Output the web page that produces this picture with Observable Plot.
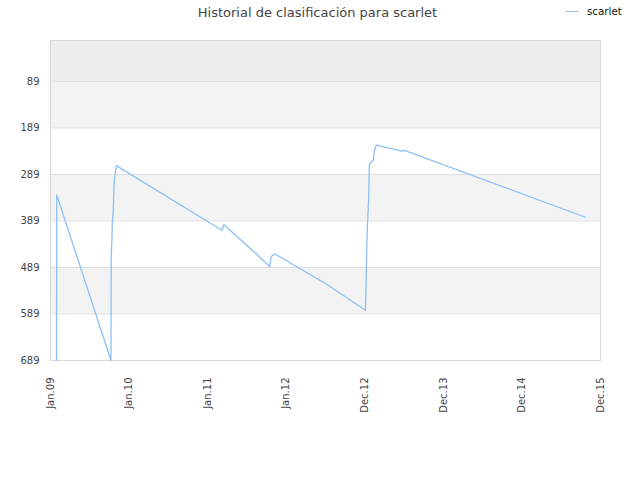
<!DOCTYPE html>
<html>
<head>
<meta charset="utf-8">
<script src="https://cdn.jsdelivr.net/npm/d3@7"></script>
<script src="https://cdn.jsdelivr.net/npm/@observablehq/plot@0.6"></script>
<style>
  html, body { margin: 0; padding: 0; background: #fff; }
  #wrap { position: relative; width: 640px; height: 480px; font-family: "DejaVu Sans", sans-serif; }
  #title { position: absolute; left: 0; top: 5px; width: 635px; text-align: center; font-size: 13px; color: #444; }
  #legend { position: absolute; left: 566px; top: 5px; font-size: 10.3px; color: #111; display: flex; align-items: center; }
  #legend .sw { display: inline-block; width: 12px; height: 0; border-top: 1.5px solid #8cc0f4; margin-right: 9px; }
  #chart { position: absolute; left: 0; top: 39px; }
</style>
</head>
<body>
<div id="wrap">
  <div id="title">Historial de clasificación para scarlet</div>
  <div id="legend"><span class="sw"></span><span>scarlet</span></div>
  <div id="chart"></div>
</div>
<script>
// ---- data ----
const seriesName = "scarlet";
const dates = [
  "2009-01-29", "2009-01-30", "2009-02-02",
  "2009-10-09", "2009-10-10", "2009-10-14", "2009-10-15", "2009-10-19",
  "2009-10-24", "2009-10-28", "2009-11-03",
  "2011-03-08", "2011-03-18", "2011-08-15", "2011-10-16", "2011-10-24",
  "2011-11-10", "2012-07-07",
  "2013-01-03", "2013-01-06", "2013-01-08", "2013-01-12", "2013-01-18",
  "2013-01-21", "2013-01-29", "2013-02-09", "2013-02-14", "2013-02-22",
  "2013-06-21", "2013-07-03", "2015-10-22"
];
const ranks = [
  689, 333, 337,
  689, 467, 420, 395, 370,
  306, 288, 270,
  409, 397, 460, 487, 465,
  460, 525,
  581, 529, 474, 401, 341,
  266, 264, 257, 237, 226,
  239, 237, 381
];
const xTickDates = ["2009-01-01", "2010-01-01", "2011-01-01", "2012-01-01",
                    "2012-12-31", "2013-12-31", "2014-12-31", "2015-12-31"];
const xTickLabels = ["Jan.09", "Jan.10", "Jan.11", "Jan.12",
                     "Dec.12", "Dec.13", "Dec.14", "Dec.15"];
const yTicks = [89, 189, 289, 389, 489, 589, 689];
const yMin = 1;

// ---- build ----
const parse = d3.utcParse("%Y-%m-%d");
const rows = dates.map((d, i) => ({date: parse(d), rank: ranks[i]}));
const xTicks = xTickDates.map(parse);
const xDomain = [xTicks[0], xTicks[xTicks.length - 1]];
const bounds = [yMin, ...yTicks];
const bands = bounds.slice(0, -1).map((b, i) => ({y1: b, y2: bounds[i + 1], i}));
const bandFill = d => d.i === 0 ? "#eeeeee" : (d.i % 2 ? "#f3f3f3" : "#ffffff");

const chart = Plot.plot({
  width: 640,
  height: 441,
  marginTop: 1,
  marginLeft: 50,
  marginRight: 40,
  marginBottom: 120,
  style: {fontFamily: "DejaVu Sans, sans-serif", fontSize: "10px", color: "#444", background: "transparent"},
  x: {type: "utc", domain: xDomain},
  y: {domain: [yMin, yTicks[yTicks.length - 1]], reverse: true},
  marks: [
    Plot.rect(bands, {x1: () => xDomain[0], x2: () => xDomain[1], y1: "y1", y2: "y2", fill: bandFill}),
    Plot.ruleY(yTicks, {stroke: "#dedede"}),
    Plot.frame({stroke: "#d8d8d8"}),
    Plot.line(rows, {x: "date", y: "rank", stroke: "#8cc0f4", strokeWidth: 1.3}),
    Plot.axisY(yTicks, {tickSize: 0, tickPadding: 11, tickFormat: d => String(d), label: null}),
    Plot.axisX(xTicks, {tickSize: 0, tickPadding: 17, tickRotate: -90, textAnchor: "end",
                        tickFormat: (d, i) => xTickLabels[i], label: null})
  ]
});
document.getElementById("chart").appendChild(chart);
</script>
</body>
</html>
